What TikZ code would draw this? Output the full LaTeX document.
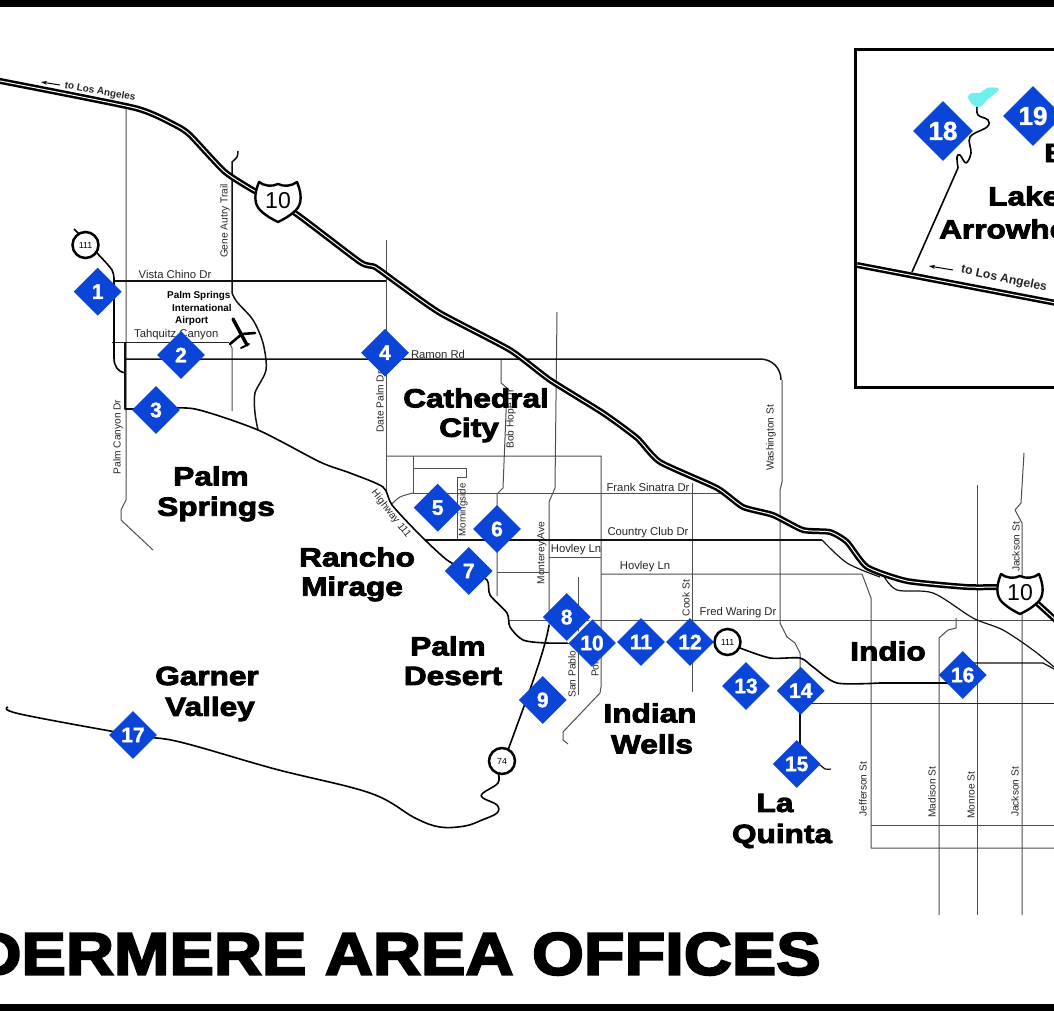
\documentclass[tikz,border=0pt]{standalone}
\usepackage{fontspec}
\usetikzlibrary{shapes.geometric,arrows.meta}
\setmainfont{Liberation Sans}
\newfontfamily\heavyfont[FakeBold=3.4,FakeStretch=1.2]{Liberation Sans Bold}
\newfontfamily\titlefont[FakeBold=3.4,FakeStretch=1.11]{Liberation Sans Bold}
\newfontfamily\numfont[FakeBold=1.5]{Liberation Sans Bold}
\newfontfamily\boldlab{Liberation Sans Bold}
\definecolor{officeblue}{HTML}{0B45D8}
\definecolor{roadgray}{HTML}{4E4E4E}
\definecolor{roaddark}{HTML}{111111}
\definecolor{lakecyan}{HTML}{6FF0EE}
\tikzset{
  gr/.style={draw=roadgray,line width=1pt,line join=round},
  dk/.style={draw=roaddark,line width=1.5pt,line join=round},
  fw/.style={draw=black,line width=1.6pt,line join=round},
  lab/.style={font=\fontsize{11.3}{11.3}\selectfont,inner sep=0pt,text=black!85},
  vlab/.style={font=\fontsize{10.2}{10.2}\selectfont,inner sep=0pt,text=black!85,rotate=90},
  aplab/.style={anchor=west,inner sep=0pt,font=\boldlab\fontsize{9.9}{9.9}\selectfont},
  big/.style={font=\heavyfont\fontsize{26.3}{26.3}\selectfont,inner sep=0pt},
  office/.style={diamond,aspect=1,fill=officeblue,inner sep=0pt,minimum width=48pt,minimum height=48pt,text=white,font=\numfont\fontsize{21}{21}\selectfont},
  officebig/.style={office,minimum width=60pt,minimum height=60pt,font=\numfont\fontsize{26}{26}\selectfont},
  sr/.style={circle,draw=black,line width=2.5pt,fill=white,minimum size=26pt,inner sep=0pt,font=\fontsize{8.8}{8.8}\selectfont},
}
\newcommand{\ishield}[3]{%
  \begin{scope}[shift={(#2,#3)}]
    \draw[black,line width=2.4pt,fill=white,line join=round]
      (-19,-20) .. controls (-14,-16) and (-6,-15) .. (0,-18)
      .. controls (6,-15) and (14,-16) .. (19,-20)
      .. controls (24,-8) and (24,2) .. (18,8)
      .. controls (12,14) and (6,17) .. (0,20)
      .. controls (-6,17) and (-12,14) .. (-18,8)
      .. controls (-24,2) and (-24,-8) .. (-19,-20) -- cycle;
    \node[inner sep=0pt,font=\fontsize{23}{23}\selectfont] (#1) at (0,-1) {10};
  \end{scope}}
\begin{document}
\begin{tikzpicture}[x=1pt,y=-1pt]
\useasboundingbox (0,0) rectangle (1054,1011);
\begin{scope}
\clip (0,0) rectangle (1054,1011);
\fill[white] (0,0) rectangle (1054,1011);
\fill[black] (0,0) rectangle (1054,7);
\fill[black] (0,1004) rectangle (1054,1011);

% grey streets
\draw[gr] (126,109) -- (126,500) -- (121,510) -- (121,520) -- (153,550);
\draw[gr] (230,344) -- (232,348) -- (232,411);
\draw[gr] (386,240) -- (386,493);
\draw[gr] (386,456) -- (601,456) -- (601,687) -- (600,693) -- (563,732) -- (563,740) -- (568,744);
\draw[gr] (413,456) -- (413,493);
\draw[gr] (413,468) -- (466,468) -- (466,477) -- (457,477) -- (457,540);
\draw[gr] (413,493) -- (727,493);
\draw[gr] plot[smooth,tension=.6] coordinates {(392,504) (400,497) (413,493)};
\draw[gr] (501,360) -- (501,383) -- (507,388) -- (503,488) -- (497,494) -- (497,596);
\draw[gr] (557,312) -- (555,488) -- (549,502) -- (549,627);
\draw[gr] (497,572) -- (549,572);
\draw[gr] (549,557) -- (601,557);
\draw[gr] (601,574) -- (862,574) -- (871,598) -- (871,848) -- (1054,848);
\draw[gr] (871,825) -- (1054,825);
\draw[gr] (509,620) -- (1054,620);
\draw[gr] (578,577) -- (578,695);
\draw[gr] (692,483) -- (692,692);
\draw[gr] (782,380) -- (782,482) -- (780,490) -- (780,623) -- (787,637) -- (795,643) -- (800,653) -- (800,690);
\draw[gr] (956,618) -- (956,628) -- (948,630) -- (939,638) -- (939,915);
\draw[gr] (977,485) -- (977,915);
\draw[gr] (1024,453) -- (1021,503) -- (1015,510) -- (1022,523) -- (1022,915);
\draw[gr,draw=black!85] (801,703) -- (1054,703);
\draw[gr,draw=black!85] (112,342) -- (229,342);
\draw[gr,draw=black!85] (125,342) -- (125,345);

% dark roads
\draw[dk] (114,281) -- (386,281);
\draw[dk] plot[smooth,tension=.5] coordinates {(238,151) (237,157) (232,162)} -- (232,293);
\draw[dk] plot[smooth,tension=.5] coordinates {(232,293) (237,302) (253,320) (263,343) (266,370) (255,393) (255,413) (258,430)};
\draw[dk] (125,342) -- (125,409) -- (155,409);
\draw[dk] (125,359) -- (760,359) .. controls (772,359) and (781,368) .. (781,380);
\draw[dk] (425,540) -- (822,540);
\draw[dk,line width=1.2pt] plot[smooth,tension=.5] coordinates {(822,540) (847,563) (880,577)};
\draw[dk,line width=1.2pt] plot[smooth,tension=.5] coordinates {(883,575) (897,590) (933,593) (973,618) (1003,630) (1033,650) (1054,667)};
\draw[dk,line width=1.2pt] (962,663) -- (1043,663) -- (1054,669);
\draw[dk] (800,700) -- (800,763);
\draw[dk,line width=1.2pt] plot[smooth,tension=.6] coordinates {(810,762) (820,765) (825,769) (831,769)};

% Highway 111
\draw[fw] plot[smooth,tension=.5] coordinates {(74,229) (85,240)};
\draw[fw] plot[smooth,tension=.5] coordinates {(96,252) (112,270) (114,282)} -- (114,358) .. controls (114,366) and (118,372) .. (125,373);
\draw[fw] plot[smooth,tension=.45] coordinates {(155,409) (195,409) (258,430) (320,462) (350,473) (383,487) (392,505) (420,535) (447,560) (468,571)};
\draw[fw] plot[smooth,tension=.45] coordinates {(468,571) (487,580) (490,595) (507,613) (510,627) (523,640) (547,643) (590,643)};
\draw[fw] plot[smooth,tension=.45] coordinates {(740,648) (770,658) (800,658) (813,667) (837,683) (880,683)} -- (962,683);

% Highway 74 and Garner Valley
\draw[fw] (549,625) .. controls (545,650) and (530,690) .. (508,750);
\draw[fw] plot[smooth,tension=.6] coordinates {(498,772) (498,783) (483,793) (483,798) (497,805) (497,813) (482,820) (465,826) (440,827) (415,818) (370,793) (275,769) (180,742) (133,735) (20,714) (8,707)};

% Interstate 10
\foreach \c/\w in {black/6,white/1}{
\draw[\c,line width=\w pt,line join=round] plot[smooth,tension=.35] coordinates {(-5,80) (135,108) (175,125) (190,135) (225,172) (258,193) (295,213) (360,262) (375,267) (400,285) (440,313) (510,350) (550,380) (603,413) (637,438) (660,462) (717,488) (743,507) (773,515) (803,530) (830,532) (847,542) (867,567) (907,581) (967,587) (1000,587)};
\draw[\c,line width=\w pt,line join=round] (1025,597) -- (1037,603) -- (1060,624);
}

% airport plane
\draw[black,line width=3.4pt,line cap=round] (233,319) -- (247,345);
\draw[black,line width=2.6pt,line cap=round] (230,344) -- (242,334) -- (255,333);
\draw[black,line width=2pt,line cap=round] (241,348) -- (249,344);

% route shields
\ishield{iten}{278}{202}
\ishield{itenb}{1020}{594}
\node[sr] (srone) at (85.5,245) {111};
\node[sr] (srtwo) at (727.5,642) {111};
\node[sr] (srthree) at (502,761) {74};

% street labels
\node[lab,rotate=-10,font=\boldlab\fontsize{10}{10}\selectfont] (tolaa) at (100,92) {to Los Angeles};
\draw[black,line width=1pt,-{Stealth[length=6pt,width=4pt]}] (60,85) -- (41,82);
\node[vlab] (gene) at (225,221) {Gene Autry Trail};
\node[lab] (vista) at (175,274) {Vista Chino Dr};
\node[lab,anchor=west] (taq) at (134,335) {Tahquitz Canyon};
\node[aplab] (apa) at (167,296) {Palm Springs};
\node[aplab] (apb) at (172,308) {International};
\node[aplab] (apc) at (175,320.5) {Airport};
\node[lab] (ramon) at (438,354) {Ramon Rd};
\node[vlab] (palmc) at (118,437) {Palm Canyon Dr};
\node[vlab] (dpalm) at (380,402) {Date Palm Dr};
\node[vlab] (bobh) at (511,419) {Bob Hope Dr};
\node[vlab,rotate=-142] (hw) at (391,514) {Highway 111};
\node[vlab] (morn) at (463,510) {\fontsize{9.7}{9.7}\selectfont Morningside};
\node[vlab] (mont) at (542,553) {Monterey Ave};
\node[lab] (frank) at (648,487) {Frank Sinatra Dr};
\node[lab] (cclub) at (648,533) {Country Club Dr};
\node[lab] (hova) at (576,550) {Hovley Ln};
\node[lab] (hovb) at (645,567) {Hovley Ln};
\node[vlab] (cook) at (686,598) {Cook St};
\node[lab] (fred) at (738,613) {Fred Waring Dr};
\node[vlab] (sanp) at (572,674) {San Pablo};
\node[vlab,anchor=west] (port) at (595,677) {Portola};
\node[vlab] (wash) at (771,438) {Washington St};
\node[vlab] (jacka) at (1016,547) {Jackson St};
\node[vlab] (jeff) at (863,789) {Jefferson St};
\node[vlab] (madi) at (932,792) {Madison St};
\node[vlab] (monr) at (971,795) {Monroe St};
\node[vlab] (jackb) at (1015,792) {Jackson St};

% offices
\node[office] (o1) at (97.7,291.7) {1};
\node[office] (o2) at (181,355) {2};
\node[office] (o3) at (156,410) {3};
\node[office] (o4) at (385,352.7) {4};
\node[office] (o5) at (437.7,507.7) {5};
\node[office] (o6) at (497,529) {6};
\node[office] (o7) at (468.7,571) {7};
\node[office] (o8) at (566.7,617) {8};
\node[office] (o9) at (542.7,700) {9};
\node[office] (o10) at (592,643) {10};
\draw[white,line width=1pt] (o10.west) -- (o10.north);
\node[office] (o11) at (641,642) {11};
\node[office] (o12) at (690,642) {12};
\node[office] (o13) at (746,686) {13};
\node[office] (o14) at (800.7,690.7) {14};
\node[office] (o15) at (796.7,764) {15};
\node[office] (o16) at (962.7,675) {16};
\node[office] (o17) at (133,735) {17};

% place names
\node[big] (pcat) at (476,398) {Cathedral};
\node[big] (pcity) at (469,430) {City};
\node[big] (pps) at (211,476) {Palm};
\node[big] (psp) at (216,509) {Springs};
\node[big] (pran) at (357,557) {Rancho};
\node[big] (pmir) at (352,589) {Mirage};
\node[big] (ppd) at (448,646) {Palm};
\node[big] (pdes) at (453,676) {Desert};
\node[big] (pgar) at (207,676) {Garner};
\node[big] (pval) at (210,709) {Valley};
\node[big] (pind) at (650,713) {Indian};
\node[big] (pwel) at (652,744) {Wells};
\node[big] (pla) at (775,803) {La};
\node[big] (pqui) at (782,836) {Quinta};
\node[big] (pindio) at (888,651) {Indio};

% inset
\draw[black,line width=3pt,fill=white] (855,50) rectangle (1070,387);
\foreach \c/\w in {black/6,white/1}{
\draw[\c,line width=\w pt] (857,265) -- (1056,303);
}
\fill[lakecyan] plot[smooth cycle,tension=.6] coordinates {(968,97) (973,105) (980,107) (987,100) (997,92) (998,88) (987,88) (980,93) (972,93)};
\draw[fw] (912,272) -- (958,168);
\draw[fw] plot[smooth,tension=.6] coordinates {(958,168) (957,157) (960,155) (966,163) (971,153) (970,137) (987,127) (988,120) (978,115) (977,107)};
\node[lab,rotate=-12,font=\boldlab\fontsize{12.2}{12.2}\selectfont] (tolab) at (1004,279) {to Los Angeles};
\draw[black,line width=1pt,-{Stealth[length=6pt,width=4pt]}] (953,270) -- (929,266);
\node[officebig] (o18) at (943,131) {18};
\node[officebig] (o19) at (1033,116) {19};
\node[big,anchor=west] (pb) at (1044,153) {B};
\node[big,anchor=west] (plake) at (988,196) {Lake};
\node[big,anchor=west] (parrow) at (939,229) {Arrowhead};

% title
\node[inner sep=0pt,anchor=east,font=\titlefont\fontsize{60}{60}\selectfont] (title) at (821,954) {DERMERE AREA OFFICES};
\end{scope}
\end{tikzpicture}
\end{document}
